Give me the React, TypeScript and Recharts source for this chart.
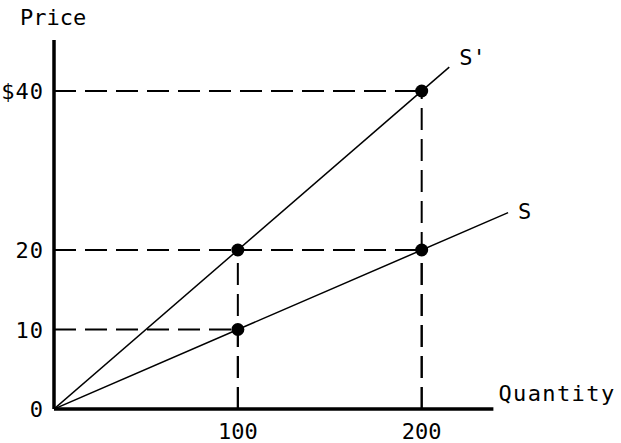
import {
  ComposedChart,
  Line,
  ReferenceDot,
  ReferenceLine,
  Scatter,
  XAxis,
  YAxis,
} from "recharts";

// supply curves, quantity vs price
const supplyS = [
  { q: 0, p: 0 },
  { q: 247, p: 24.7 },
];
const supplySPrime = [
  { q: 0, p: 0 },
  { q: 215, p: 43 },
];

// points marked on the curves
const marked = [
  { q: 100, p: 10 },
  { q: 100, p: 20 },
  { q: 200, p: 20 },
  { q: 200, p: 40 },
];

const xTicks = [100, 200];
const yTicks = [0, 10, 20, 40];
const yTickText: Record<number, string> = { 0: "0", 10: "10", 20: "20", 40: "$40" };

const X_AXIS_END = 239;
const Y_AXIS_END = 46.4;

const FONT = "'DejaVu Sans Mono', monospace";

const XTick = (props: any) => {
  const { x, y, payload } = props;
  return (
    <text x={x} y={y + 28} textAnchor="middle" fontFamily={FONT} fontSize={22} fill="#000">
      {payload.value}
    </text>
  );
};

const YTick = (props: any) => {
  const { x, y, payload } = props;
  return (
    <text
      x={x - 8}
      y={y + 8}
      textAnchor="end"
      fontFamily={FONT}
      fontSize={22}
      letterSpacing={1}
      fill="#000"
    >
      {yTickText[payload.value]}
    </text>
  );
};

const curveLabel = (text: string, dx: number, dy: number) => (props: any) => {
  const { viewBox } = props;
  return (
    <text
      x={viewBox.x + dx}
      y={viewBox.y + dy}
      fontFamily={FONT}
      fontSize={22}
      fill="#000"
    >
      {text}
    </text>
  );
};

const App = () => {
  return (
    <div style={{ position: "absolute", left: 0, top: 0, background: "#fff" }}>
      <ComposedChart
        width={621}
        height={443}
        margin={{ top: 11.5, right: 89, bottom: 0, left: 0 }}
      >
        <XAxis
          type="number"
          dataKey="q"
          domain={[0, 260]}
          ticks={xTicks}
          axisLine={false}
          tickLine={false}
          tickSize={0}
          height={34}
          tick={<XTick />}
          allowDataOverflow
        />
        <YAxis
          type="number"
          dataKey="p"
          domain={[0, 50]}
          ticks={yTicks}
          axisLine={false}
          tickLine={false}
          tickSize={0}
          width={54}
          tick={<YTick />}
          allowDataOverflow
        />

        {marked.map((m, i) => (
          <ReferenceLine
            key={`h-${i}`}
            segment={[
              { x: 0, y: m.p },
              { x: m.q, y: m.p },
            ]}
            stroke="#000"
            strokeWidth={2}
            strokeDasharray="22 9"
          />
        ))}
        {marked.map((m, i) => (
          <ReferenceLine
            key={`v-${i}`}
            segment={[
              { x: m.q, y: 0 },
              { x: m.q, y: m.p },
            ]}
            stroke="#000"
            strokeWidth={2}
            strokeDasharray="22 9"
          />
        ))}

        <Line
          data={supplySPrime}
          dataKey="p"
          stroke="#000"
          strokeWidth={1.5}
          dot={false}
          isAnimationActive={false}
        />
        <Line
          data={supplyS}
          dataKey="p"
          stroke="#000"
          strokeWidth={1.5}
          dot={false}
          isAnimationActive={false}
        />

        <ReferenceLine
          segment={[
            { x: 0, y: 0 },
            { x: X_AXIS_END, y: 0 },
          ]}
          stroke="#000"
          strokeWidth={3.5}
          label={{
            content: (props: any) => (
              <text
                x={props.viewBox.x + props.viewBox.width + 5}
                y={401}
                fontFamily={FONT}
                fontSize={22}
                letterSpacing={1.4}
                fill="#000"
              >
                Quantity
              </text>
            ),
          }}
        />
        <ReferenceLine
          segment={[
            { x: 0, y: 0 },
            { x: 0, y: Y_AXIS_END },
          ]}
          stroke="#000"
          strokeWidth={3.5}
          label={{
            content: () => (
              <text x={20} y={25} fontFamily={FONT} fontSize={22} fill="#000">
                Price
              </text>
            ),
          }}
        />

        <Scatter
          data={marked}
          dataKey="p"
          fill="#000"
          shape={(props: any) => <circle cx={props.cx} cy={props.cy} r={6.5} fill="#000" />}
          isAnimationActive={false}
        />

        <ReferenceDot
          x={supplySPrime[1].q}
          y={supplySPrime[1].p}
          r={0}
          stroke="none"
          label={{ content: curveLabel("S'", 10, -2) }}
        />
        <ReferenceDot
          x={supplyS[1].q}
          y={supplyS[1].p}
          r={0}
          stroke="none"
          label={{ content: curveLabel("S", 10, 6) }}
        />
      </ComposedChart>
    </div>
  );
};

export default App;
